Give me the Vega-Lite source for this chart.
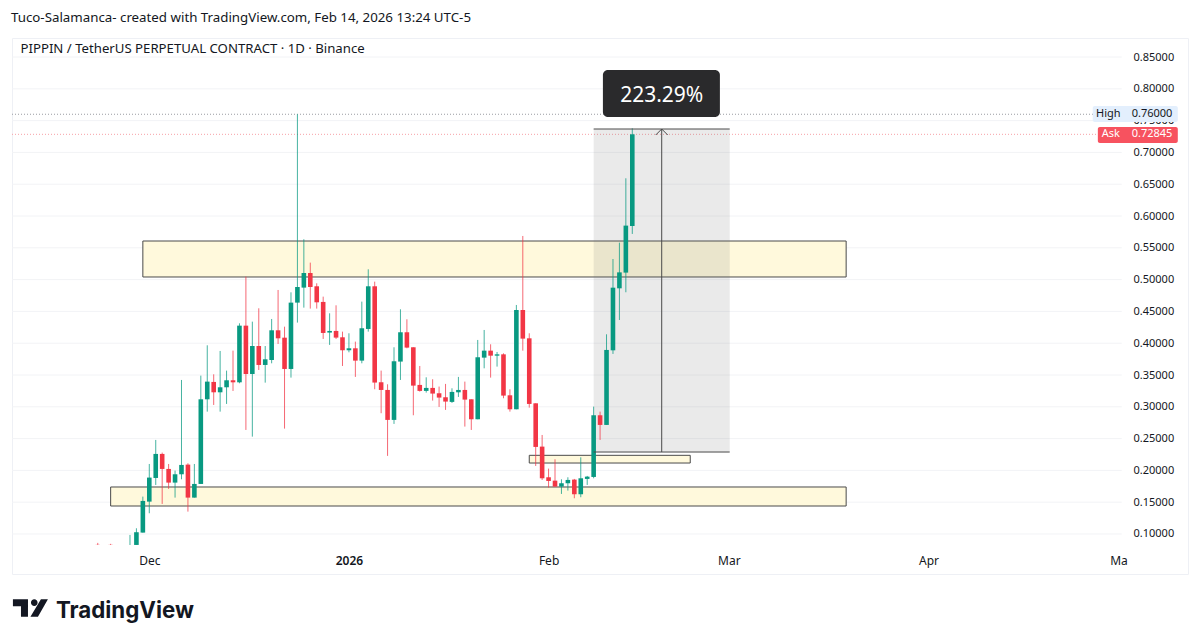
{
  "$schema": "https://vega.github.io/schema/vega-lite/v6.json",
  "autosize": "none",
  "padding": {"left": 12, "top": 38, "right": 12, "bottom": 69},
  "width": 1176,
  "height": 536,
  "background": "white",
  "view": {"stroke": "#eef0f5", "strokeWidth": 1},
  "title": {"text": "Tuco-Salamanca- created with TradingView.com, Feb 14, 2026 13:24 UTC-5", "anchor": "start", "frame": "group", "offset": 14, "dx": -1, "font": "Noto Sans", "fontSize": 13.3, "fontWeight": "normal", "color": "#131722"},
  "datasets": {
    "candles": [
      {"d": "2025-11-23", "o": 0.0829, "h": 0.086, "l": 0.0827, "c": 0.0827},
      {"d": "2025-11-25", "o": 0.0829, "h": 0.0845, "l": 0.0827, "c": 0.0827},
      {"d": "2025-11-28", "o": 0.0827, "h": 0.0985, "l": 0.0827, "c": 0.0827},
      {"d": "2025-11-29", "o": 0.0828, "h": 0.109, "l": 0.0828, "c": 0.1028},
      {"d": "2025-11-30", "o": 0.1022, "h": 0.1588, "l": 0.1022, "c": 0.152},
      {"d": "2025-12-01", "o": 0.1509, "h": 0.2101, "l": 0.1326, "c": 0.1887},
      {"d": "2025-12-02", "o": 0.1881, "h": 0.2479, "l": 0.1771, "c": 0.2259},
      {"d": "2025-12-03", "o": 0.2259, "h": 0.228, "l": 0.1473, "c": 0.2023},
      {"d": "2025-12-04", "o": 0.2023, "h": 0.2101, "l": 0.1709, "c": 0.1808},
      {"d": "2025-12-05", "o": 0.1808, "h": 0.1997, "l": 0.1572, "c": 0.1939},
      {"d": "2025-12-06", "o": 0.1939, "h": 0.3422, "l": 0.186, "c": 0.2086},
      {"d": "2025-12-07", "o": 0.2091, "h": 0.2112, "l": 0.1352, "c": 0.1572},
      {"d": "2025-12-08", "o": 0.1572, "h": 0.2101, "l": 0.1572, "c": 0.1787},
      {"d": "2025-12-09", "o": 0.1787, "h": 0.349, "l": 0.1787, "c": 0.3118},
      {"d": "2025-12-10", "o": 0.3118, "h": 0.3967, "l": 0.2924, "c": 0.3396},
      {"d": "2025-12-11", "o": 0.3391, "h": 0.3511, "l": 0.3029, "c": 0.3228},
      {"d": "2025-12-12", "o": 0.3228, "h": 0.3878, "l": 0.2924, "c": 0.3307},
      {"d": "2025-12-13", "o": 0.3307, "h": 0.3569, "l": 0.3045, "c": 0.3417},
      {"d": "2025-12-14", "o": 0.3417, "h": 0.3883, "l": 0.3249, "c": 0.3385},
      {"d": "2025-12-15", "o": 0.3385, "h": 0.4313, "l": 0.337, "c": 0.4276},
      {"d": "2025-12-16", "o": 0.4276, "h": 0.5046, "l": 0.2636, "c": 0.3516},
      {"d": "2025-12-17", "o": 0.3516, "h": 0.4339, "l": 0.2531, "c": 0.3956},
      {"d": "2025-12-18", "o": 0.3956, "h": 0.4549, "l": 0.3579, "c": 0.3658},
      {"d": "2025-12-19", "o": 0.3658, "h": 0.3956, "l": 0.338, "c": 0.3747},
      {"d": "2025-12-20", "o": 0.3736, "h": 0.4381, "l": 0.3684, "c": 0.4203},
      {"d": "2025-12-21", "o": 0.4203, "h": 0.4837, "l": 0.3988, "c": 0.4077},
      {"d": "2025-12-22", "o": 0.4087, "h": 0.426, "l": 0.2657, "c": 0.3595},
      {"d": "2025-12-23", "o": 0.3595, "h": 0.48, "l": 0.3459, "c": 0.4638},
      {"d": "2025-12-24", "o": 0.4638, "h": 0.76, "l": 0.4324, "c": 0.4884},
      {"d": "2025-12-25", "o": 0.4874, "h": 0.5634, "l": 0.4559, "c": 0.5104},
      {"d": "2025-12-26", "o": 0.5104, "h": 0.5267, "l": 0.4544, "c": 0.4884},
      {"d": "2025-12-27", "o": 0.4895, "h": 0.4942, "l": 0.4544, "c": 0.4643},
      {"d": "2025-12-28", "o": 0.4649, "h": 0.4732, "l": 0.4067, "c": 0.4161},
      {"d": "2025-12-29", "o": 0.4167, "h": 0.447, "l": 0.3973, "c": 0.4193},
      {"d": "2025-12-30", "o": 0.4193, "h": 0.4596, "l": 0.4067, "c": 0.4088},
      {"d": "2025-12-31", "o": 0.4093, "h": 0.4182, "l": 0.3642, "c": 0.3889},
      {"d": "2026-01-01", "o": 0.3889, "h": 0.4156, "l": 0.3857, "c": 0.392},
      {"d": "2026-01-02", "o": 0.392, "h": 0.4025, "l": 0.347, "c": 0.3726},
      {"d": "2026-01-03", "o": 0.3726, "h": 0.4654, "l": 0.3684, "c": 0.4235},
      {"d": "2026-01-04", "o": 0.4224, "h": 0.5162, "l": 0.4182, "c": 0.4895},
      {"d": "2026-01-05", "o": 0.4895, "h": 0.4968, "l": 0.3276, "c": 0.3381},
      {"d": "2026-01-06", "o": 0.3386, "h": 0.3569, "l": 0.2899, "c": 0.3265},
      {"d": "2026-01-07", "o": 0.3265, "h": 0.3354, "l": 0.2228, "c": 0.2794},
      {"d": "2026-01-08", "o": 0.2794, "h": 0.3936, "l": 0.2731, "c": 0.3716},
      {"d": "2026-01-09", "o": 0.3711, "h": 0.4533, "l": 0.3422, "c": 0.4172},
      {"d": "2026-01-10", "o": 0.4172, "h": 0.4376, "l": 0.392, "c": 0.3931},
      {"d": "2026-01-11", "o": 0.3936, "h": 0.3936, "l": 0.2867, "c": 0.3333},
      {"d": "2026-01-12", "o": 0.3344, "h": 0.3642, "l": 0.3239, "c": 0.325},
      {"d": "2026-01-13", "o": 0.325, "h": 0.3464, "l": 0.3223, "c": 0.3297},
      {"d": "2026-01-14", "o": 0.3297, "h": 0.3433, "l": 0.3098, "c": 0.3208},
      {"d": "2026-01-15", "o": 0.3213, "h": 0.3318, "l": 0.2998, "c": 0.3145},
      {"d": "2026-01-16", "o": 0.315, "h": 0.336, "l": 0.2951, "c": 0.3082},
      {"d": "2026-01-17", "o": 0.3077, "h": 0.3291, "l": 0.3061, "c": 0.3234},
      {"d": "2026-01-18", "o": 0.3228, "h": 0.347, "l": 0.3155, "c": 0.3265},
      {"d": "2026-01-19", "o": 0.3265, "h": 0.3396, "l": 0.2689, "c": 0.3113},
      {"d": "2026-01-20", "o": 0.3118, "h": 0.3118, "l": 0.2636, "c": 0.2804},
      {"d": "2026-01-21", "o": 0.2804, "h": 0.4051, "l": 0.2804, "c": 0.3779},
      {"d": "2026-01-22", "o": 0.3773, "h": 0.4208, "l": 0.3605, "c": 0.3883},
      {"d": "2026-01-23", "o": 0.3883, "h": 0.3983, "l": 0.3459, "c": 0.3804},
      {"d": "2026-01-24", "o": 0.3804, "h": 0.3862, "l": 0.3632, "c": 0.3825},
      {"d": "2026-01-25", "o": 0.3825, "h": 0.3841, "l": 0.3134, "c": 0.3176},
      {"d": "2026-01-26", "o": 0.3181, "h": 0.3275, "l": 0.2924, "c": 0.2961},
      {"d": "2026-01-27", "o": 0.2961, "h": 0.4601, "l": 0.2961, "c": 0.4522},
      {"d": "2026-01-28", "o": 0.4522, "h": 0.5686, "l": 0.3883, "c": 0.4072},
      {"d": "2026-01-29", "o": 0.4077, "h": 0.4156, "l": 0.2987, "c": 0.3045},
      {"d": "2026-01-30", "o": 0.3055, "h": 0.3055, "l": 0.207, "c": 0.2369},
      {"d": "2026-01-31", "o": 0.2374, "h": 0.2557, "l": 0.185, "c": 0.1876},
      {"d": "2026-02-01", "o": 0.1892, "h": 0.2028, "l": 0.173, "c": 0.1834},
      {"d": "2026-02-02", "o": 0.1839, "h": 0.2175, "l": 0.1745, "c": 0.1745},
      {"d": "2026-02-03", "o": 0.1745, "h": 0.186, "l": 0.163, "c": 0.1798},
      {"d": "2026-02-04", "o": 0.1798, "h": 0.1892, "l": 0.1682, "c": 0.185},
      {"d": "2026-02-05", "o": 0.1855, "h": 0.1866, "l": 0.1562, "c": 0.1625},
      {"d": "2026-02-06", "o": 0.1625, "h": 0.2206, "l": 0.1578, "c": 0.1876},
      {"d": "2026-02-07", "o": 0.1866, "h": 0.1913, "l": 0.1771, "c": 0.1902},
      {"d": "2026-02-08", "o": 0.1897, "h": 0.3003, "l": 0.1876, "c": 0.2867},
      {"d": "2026-02-09", "o": 0.2867, "h": 0.2924, "l": 0.2479, "c": 0.2715},
      {"d": "2026-02-10", "o": 0.2715, "h": 0.414, "l": 0.2715, "c": 0.3894},
      {"d": "2026-02-11", "o": 0.3888, "h": 0.5324, "l": 0.3831, "c": 0.4873},
      {"d": "2026-02-12", "o": 0.4863, "h": 0.5581, "l": 0.4365, "c": 0.5114},
      {"d": "2026-02-13", "o": 0.511, "h": 0.6593, "l": 0.4801, "c": 0.5849},
      {"d": "2026-02-14", "o": 0.5843, "h": 0.7379, "l": 0.5718, "c": 0.72845}
    ],
    "grid": [
      {"p": 0.10}, {"p": 0.15}, {"p": 0.20}, {"p": 0.25}, {"p": 0.30}, {"p": 0.35}, {"p": 0.40}, {"p": 0.45},
      {"p": 0.50}, {"p": 0.55}, {"p": 0.60}, {"p": 0.65}, {"p": 0.70}, {"p": 0.75}, {"p": 0.80}, {"p": 0.85}
    ],
    "zones": [
      {"a": "2025-11-30", "b": "2026-03-19T05:00:00Z", "top": 0.5607, "bottom": 0.5041},
      {"a": "2025-11-25", "b": "2026-03-19T05:00:00Z", "top": 0.1739, "bottom": 0.144},
      {"a": "2026-01-29", "b": "2026-02-23", "top": 0.2237, "bottom": 0.2116}
    ],
    "measure": [{"a": "2026-02-08", "b": "2026-03-01T03:00:00Z", "mid": "2026-02-18T13:40:00Z", "top": 0.7368, "bottom": 0.2289}],
    "badge": [{"a": "2026-02-09T10:30:00Z", "b": "2026-02-27T14:30:00Z", "mid": "2026-02-18T13:40:00Z", "top": 0.8296, "bottom": 0.7557, "p": 0.789, "label": "223.29%"}],
    "tags": [
      {"a": "2026-04-26T12:00:00Z", "b": "2026-05-09T17:00:00Z", "top": 0.773, "bottom": 0.7478, "kind": "High"},
      {"a": "2026-04-27T07:00:00Z", "b": "2026-05-09T17:00:00Z", "top": 0.7399, "bottom": 0.7148, "kind": "Ask"}
    ],
    "tagText": [
      {"d": "2026-04-28T22:00:00Z", "p": 0.76, "label": "High", "kind": "High"},
      {"d": "2026-05-05T17:00:00Z", "p": 0.76, "label": "0.76000", "kind": "High"},
      {"d": "2026-04-29T07:00:00Z", "p": 0.72845, "label": "Ask", "kind": "Ask"},
      {"d": "2026-05-05T17:00:00Z", "p": 0.72845, "label": "0.72845", "kind": "Ask"}
    ],
    "levels": [
      {"a": "2025-11-09T16:20:00Z", "b": "2026-05-01", "p": 0.76, "kind": "High"},
      {"a": "2025-11-09T16:20:00Z", "b": "2026-05-01", "p": 0.72845, "kind": "Ask"}
    ]
  },
  "layer": [
    {
      "data": {"name": "grid"},
      "mark": {"type": "rule", "color": "#f2f3f6", "strokeWidth": 1},
      "encoding": {
        "x": {
          "datum": {"year": 2025, "month": 11, "date": 9, "hours": 16, "minutes": 20, "utc": true},
          "type": "temporal",
          "scale": {
            "type": "utc",
            "padding": 0,
            "domain": [
              {"year": 2025, "month": 11, "date": 9, "hours": 16, "minutes": 20, "utc": true},
              {"year": 2026, "month": 5, "date": 11, "hours": 7, "utc": true}
            ]
          },
          "axis": {
            "title": null,
            "ticks": false,
            "domain": false,
            "grid": false,
            "labelPadding": -19,
            "labelAngle": 0,
            "labelOverlap": false,
            "labelFlush": false,
            "labelFont": "Noto Sans",
            "labelFontSize": 12,
            "labelColor": "#131722",
            "labelFontWeight": {"condition": {"test": "utcmonth(datum.value) == 0", "value": 600}, "value": 400},
            "values": [
              {"year": 2025, "month": 12, "date": 1, "utc": true},
              {"year": 2026, "month": 1, "date": 1, "utc": true},
              {"year": 2026, "month": 2, "date": 1, "utc": true},
              {"year": 2026, "month": 3, "date": 1, "utc": true},
              {"year": 2026, "month": 4, "date": 1, "utc": true},
              {"year": 2026, "month": 4, "date": 30, "hours": 12, "utc": true}
            ],
            "labelExpr": "utcmonth(datum.value) == 11 ? 'Dec' : utcmonth(datum.value) == 0 ? '2026' : utcmonth(datum.value) == 1 ? 'Feb' : utcmonth(datum.value) == 2 ? 'Mar' : utcdate(datum.value) == 1 ? 'Apr' : 'Ma'"
          }
        },
        "x2": {"datum": {"year": 2026, "month": 5, "date": 1, "utc": true}},
        "y": {
          "field": "p",
          "type": "quantitative",
          "scale": {"domain": [0.0371, 0.8799], "nice": false, "zero": false},
          "axis": {
            "title": null,
            "orient": "right",
            "ticks": false,
            "domain": false,
            "grid": false,
            "labelPadding": -55,
            "labelAlign": "left",
            "labelOverlap": false,
            "labelFont": "Noto Sans",
            "labelFontSize": 11,
            "labelColor": "#131722",
            "format": ".5f",
            "tickCount": 16,
            "values": [0.10, 0.15, 0.20, 0.25, 0.30, 0.35, 0.40, 0.45, 0.50, 0.55, 0.60, 0.65, 0.70, 0.75, 0.80, 0.85]
          }
        }
      }
    },
    {
      "data": {"name": "levels"},
      "mark": {"type": "rule", "strokeWidth": 1, "strokeDash": [1, 2]},
      "encoding": {
        "x": {"field": "a", "type": "temporal"},
        "x2": {"field": "b"},
        "y": {"field": "p", "type": "quantitative"},
        "color": {"condition": {"test": "datum.kind == 'Ask'", "value": "#f7a0a6"}, "value": "#9a9ca3"}
      }
    },
    {
      "data": {"name": "zones"},
      "mark": {"type": "rect", "fill": "#fff9dc", "stroke": "#4a4a4a", "strokeWidth": 1},
      "encoding": {
        "x": {"field": "a", "type": "temporal"},
        "x2": {"field": "b"},
        "y": {"field": "top", "type": "quantitative"},
        "y2": {"field": "bottom"}
      }
    },
    {
      "data": {"name": "measure"},
      "mark": {"type": "rect", "fill": "#757575", "fillOpacity": 0.15},
      "encoding": {
        "x": {"field": "a", "type": "temporal"},
        "x2": {"field": "b"},
        "y": {"field": "top", "type": "quantitative"},
        "y2": {"field": "bottom"}
      }
    },
    {
      "data": {"name": "candles"},
      "mark": {"type": "rule", "strokeWidth": 1, "opacity": 0.75},
      "encoding": {
        "x": {"field": "d", "type": "temporal"},
        "y": {"field": "h", "type": "quantitative"},
        "y2": {"field": "l"},
        "color": {"condition": {"test": "datum.c >= datum.o", "value": "#089981"}, "value": "#f23645"}
      }
    },
    {
      "data": {"name": "candles"},
      "mark": {"type": "bar", "size": 4.6},
      "encoding": {
        "x": {"field": "d", "type": "temporal"},
        "y": {"field": "o", "type": "quantitative"},
        "y2": {"field": "c"},
        "color": {"condition": {"test": "datum.c >= datum.o", "value": "#089981"}, "value": "#f23645"}
      }
    },
    {
      "data": {"name": "measure"},
      "mark": {"type": "rule", "color": "#4a4a4a", "strokeWidth": 1},
      "encoding": {
        "x": {"field": "a", "type": "temporal"},
        "x2": {"field": "b"},
        "y": {"field": "top", "type": "quantitative"}
      }
    },
    {
      "data": {"name": "measure"},
      "mark": {"type": "rule", "color": "#4a4a4a", "strokeWidth": 1},
      "encoding": {
        "x": {"field": "a", "type": "temporal"},
        "x2": {"field": "b"},
        "y": {"field": "bottom", "type": "quantitative"}
      }
    },
    {
      "data": {"name": "measure"},
      "mark": {"type": "rule", "color": "#4a4a4a", "strokeWidth": 1},
      "encoding": {
        "x": {"field": "mid", "type": "temporal"},
        "y": {"field": "top", "type": "quantitative"},
        "y2": {"field": "bottom"}
      }
    },
    {
      "data": {"name": "measure"},
      "mark": {"type": "point", "shape": "M-1,1L0,0L1,1", "filled": false, "size": 144, "stroke": "#4a4a4a", "strokeWidth": 1, "opacity": 1},
      "encoding": {
        "x": {"field": "mid", "type": "temporal"},
        "y": {"field": "top", "type": "quantitative"}
      }
    },
    {
      "data": {"name": "badge"},
      "mark": {"type": "rect", "fill": "#2a2a2c", "cornerRadius": 5},
      "encoding": {
        "x": {"field": "a", "type": "temporal"},
        "x2": {"field": "b"},
        "y": {"field": "top", "type": "quantitative"},
        "y2": {"field": "bottom"}
      }
    },
    {
      "data": {"name": "badge"},
      "mark": {"type": "text", "color": "white", "font": "Noto Sans", "fontSize": 21, "align": "center", "baseline": "middle"},
      "encoding": {
        "x": {"field": "mid", "type": "temporal"},
        "y": {"field": "p", "type": "quantitative"},
        "text": {"field": "label"}
      }
    },
    {
      "data": {"name": "tags"},
      "mark": {"type": "rect", "cornerRadius": 2},
      "encoding": {
        "x": {"field": "a", "type": "temporal"},
        "x2": {"field": "b"},
        "y": {"field": "top", "type": "quantitative"},
        "y2": {"field": "bottom"},
        "color": {"condition": {"test": "datum.kind == 'Ask'", "value": "#f7525f"}, "value": "#e3effd"}
      }
    },
    {
      "data": {"name": "tagText"},
      "mark": {"type": "text", "font": "Noto Sans", "fontSize": 11, "align": "center", "baseline": "middle"},
      "encoding": {
        "x": {"field": "d", "type": "temporal"},
        "y": {"field": "p", "type": "quantitative"},
        "text": {"field": "label"},
        "color": {"condition": {"test": "datum.kind == 'Ask'", "value": "white"}, "value": "#131722"}
      }
    },
    {
      "data": {"values": [{"d": "2025-11-11", "p": 0.8627, "label": "PIPPIN / TetherUS PERPETUAL CONTRACT · 1D · Binance"}]},
      "mark": {"type": "text", "font": "Noto Sans", "fontSize": 13.2, "align": "left", "baseline": "middle", "color": "#131722"},
      "encoding": {
        "x": {"field": "d", "type": "temporal"},
        "y": {"field": "p", "type": "quantitative"},
        "text": {"field": "label"}
      }
    },
    {
      "data": {"values": [{"d": "2025-11-16T12:00:00Z", "p": -0.021, "label": "TradingView"}]},
      "mark": {"type": "text", "font": "Inter", "fontWeight": 700, "fontSize": 22.3, "align": "left", "baseline": "middle", "color": "#131722", "clip": false},
      "encoding": {
        "x": {"field": "d", "type": "temporal"},
        "y": {"field": "p", "type": "quantitative"},
        "text": {"field": "label"}
      }
    },
    {
      "data": {"values": [{"d": "2025-11-12T13:00:00Z", "p": -0.0164}]},
      "mark": {"type": "point", "filled": true, "size": 1225, "color": "#131722", "opacity": 1, "shape": "M-1,-0.5H-0.14V0.5H-0.54V-0.1H-1ZM0.03,-0.31A0.19,0.19,0,1,1,0.03,-0.3ZM0.6,-0.5H1L0.43,0.5H0Z"},
      "encoding": {
        "x": {"field": "d", "type": "temporal"},
        "y": {"field": "p", "type": "quantitative"}
      }
    }
  ]
}
